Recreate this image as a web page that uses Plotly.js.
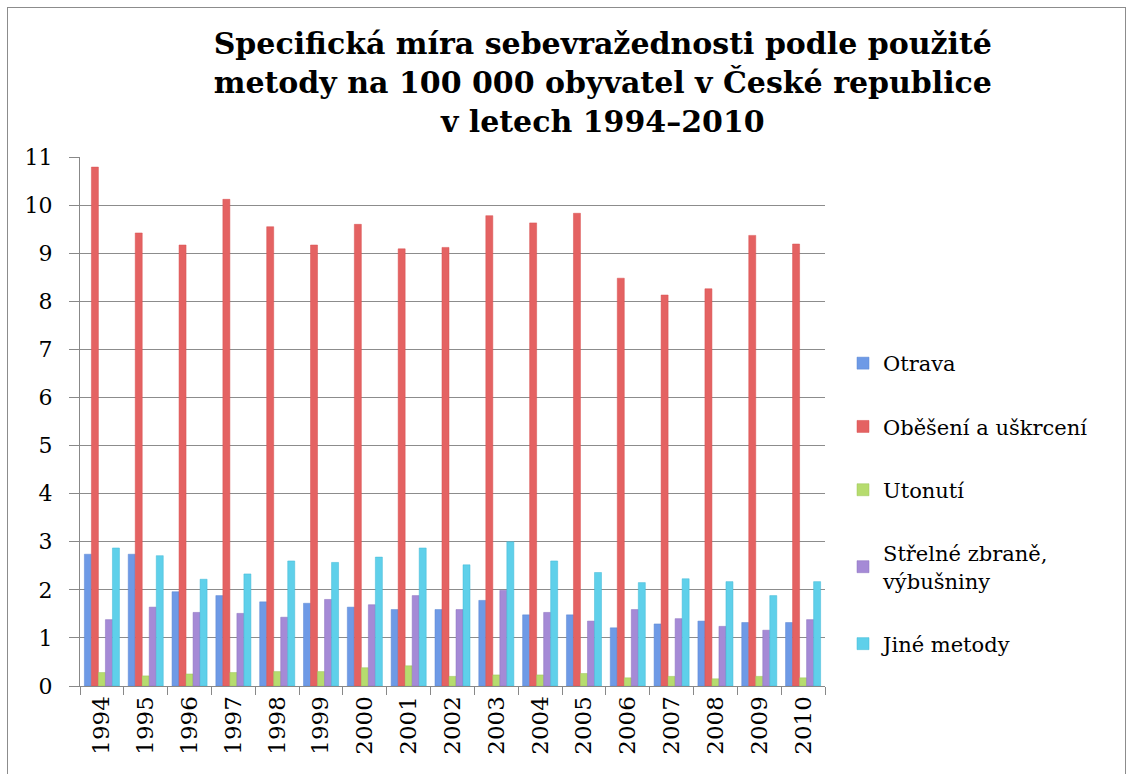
<!DOCTYPE html>
<html>
<head>
<meta charset="utf-8">
<script src="https://cdn.plot.ly/plotly-3.0.1.min.js"></script>
<style>
body{margin:0;background:#fff;}
#chart{width:1131px;height:774px;}
#frame{position:absolute;left:7px;top:7px;width:1117px;height:780px;border:1px solid #8c8c8c;pointer-events:none;}
</style>
</head>
<body>
<div id="chart"></div>
<div id="frame"></div>
<script>
const years = ["1994","1995","1996","1997","1998","1999","2000","2001","2002","2003","2004","2005","2006","2007","2008","2009","2010"];
const otrava   = [2.74,2.74,1.96,1.88,1.75,1.72,1.64,1.59,1.59,1.78,1.48,1.48,1.21,1.29,1.35,1.32,1.32];
const obeseni  = [10.79,9.42,9.17,10.12,9.55,9.17,9.60,9.09,9.12,9.78,9.63,9.83,8.48,8.13,8.26,9.37,9.19];
const utonuti  = [0.28,0.21,0.25,0.28,0.30,0.30,0.38,0.42,0.20,0.23,0.23,0.26,0.17,0.20,0.15,0.20,0.17];
const strelne  = [1.38,1.64,1.53,1.51,1.43,1.80,1.69,1.88,1.59,1.99,1.53,1.35,1.59,1.40,1.24,1.16,1.38];
const jine     = [2.87,2.71,2.22,2.33,2.60,2.57,2.68,2.87,2.52,3.00,2.60,2.36,2.15,2.23,2.17,1.88,2.17];
const seriesNames = ["Otrava","Oběšení a uškrcení","Utonutí","Střelné zbraně,<br>výbušniny","Jiné metody"];
const yTicks = [0,1,2,3,4,5,6,7,8,9,10,11];

const colors = ["#6e9ae6","#e46262","#b6dc6e","#a58ad6","#5fd0ea"];
const lineColors = ["#5a86d2","#d85050","#9cc45a","#8a70be","#40b8d6"];
const vals = [otrava, obeseni, utonuti, strelne, jine];
const textFont = "DejaVu Serif, serif";

const traces = vals.map((v,i)=>({
  type:"bar", x:years, y:v, name:seriesNames[i], legendgroup:"g"+i,
  marker:{color:colors[i], line:{color:lineColors[i], width:0.5}}
}));

const layout = {
  width:1131, height:774,
  margin:{l:80, r:306, t:157, b:88},
  paper_bgcolor:"#fff", plot_bgcolor:"#fff",
  font:{family:textFont, color:"#000"},
  barmode:"group", bargap:0.2, bargroupgap:0,
  title:{
    text:"<b>Specifická míra sebevražednosti podle použité<br>metody na 100 000 obyvatel v České republice<br>v letech 1994–2010</b>",
    font:{family:textFont, size:30, color:"#000"},
    xref:"container", x:0.533, xanchor:"center",
    yref:"container", y:0.93, yanchor:"top"
  },
  xaxis:{
    type:"category", tickangle:-90, tickson:"boundaries", ticks:"outside", ticklen:8, tickcolor:"#888",
    showline:true, linecolor:"#888", linewidth:1,
    tickfont:{family:textFont, size:23, color:"#000"}, showgrid:false
  },
  yaxis:{
    range:[0,11], tickvals:yTicks, ticktext:yTicks.map(String),
    showgrid:true, gridcolor:"#8c8c8c", gridwidth:1,
    showline:true, linecolor:"#888", ticks:"outside", ticklen:10, tickcolor:"#888",
    ticklabelstandoff:12,
    tickfont:{family:textFont, size:22, color:"#000"}, zeroline:false
  },
  legend:{
    x:(843-80)/745, xanchor:"left", y:0.345, yanchor:"middle",
    font:{family:textFont, size:21, color:"#000"},
    tracegroupgap:33, traceorder:"grouped", itemwidth:30
  },
  showlegend:true
};

Plotly.newPlot("chart", traces, layout, {displayModeBar:false, staticPlot:true});
</script>
</body>
</html>
